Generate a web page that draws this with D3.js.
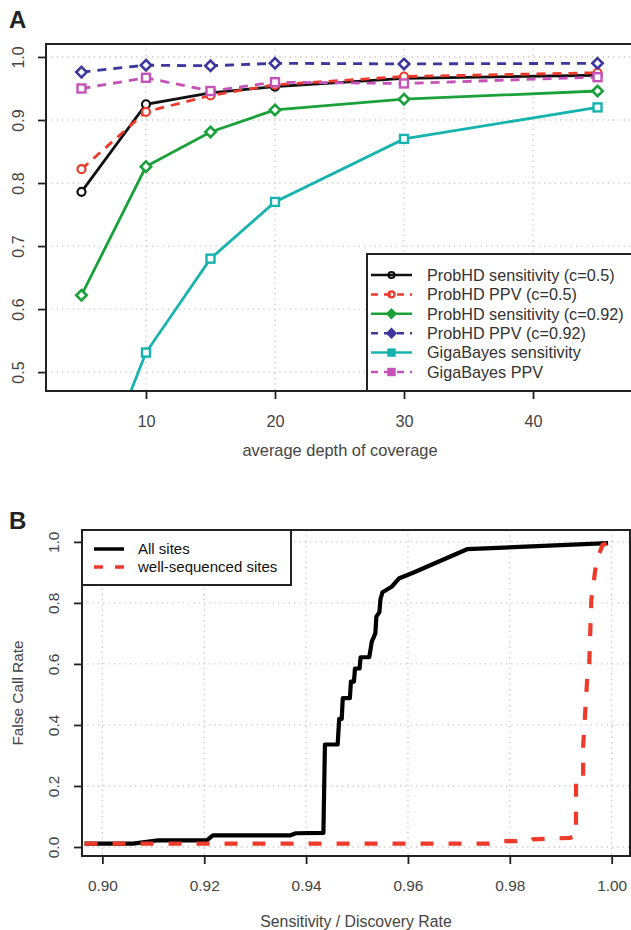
<!DOCTYPE html>
<html>
<head>
<meta charset="utf-8">
<script src="https://cdn.jsdelivr.net/npm/d3@7"></script>
<style>
  body { margin: 0; background: #fff; }
  svg { display: block; font-family: "Liberation Sans", Arial, sans-serif; }
</style>
</head>
<body>
<svg id="chart"></svg>
<script>
// ---- panel A data ----
const depth = [5, 10, 15, 20, 30, 45];
const probhdSens05 = [0.786, 0.925, 0.943, 0.953, 0.966, 0.971];
const probhdPpv05 = [0.822, 0.913, 0.939, 0.956, 0.969, 0.975];
const probhdSens092 = [0.622, 0.826, 0.881, 0.916, 0.933, 0.946];
const probhdPpv092 = [0.976, 0.987, 0.986, 0.990, 0.989, 0.990];
const gigaSens = [0.27, 0.531, 0.680, 0.770, 0.870, 0.920];
const gigaPpv = [0.950, 0.967, 0.946, 0.960, 0.958, 0.968];
const aXTicks = [10, 20, 30, 40];
const aYTicks = [0.5, 0.6, 0.7, 0.8, 0.9, 1.0];

// ---- panel B data ----
const allSens = [0.8965, 0.906, 0.911, 0.9205, 0.9217, 0.9368, 0.938, 0.9434, 0.9437, 0.9462, 0.9465, 0.9470,
  0.9472, 0.9486, 0.9488, 0.9494, 0.9496, 0.9505, 0.9507, 0.9524, 0.9529, 0.9536, 0.9538, 0.9544, 0.9546,
  0.9550, 0.9568, 0.9583, 0.9610, 0.9716, 0.9993];
const allFcr = [0.011, 0.011, 0.022, 0.022, 0.038, 0.038, 0.045, 0.046, 0.336, 0.336, 0.42, 0.42,
  0.488, 0.488, 0.542, 0.542, 0.585, 0.585, 0.622, 0.622, 0.673, 0.70, 0.755, 0.77, 0.812,
  0.835, 0.853, 0.881, 0.899, 0.976, 0.996];
const wellSens = [0.8965, 0.976, 0.978, 0.984, 0.9845, 0.9918, 0.9930, 0.9930, 0.9944, 0.9944, 0.9953,
  0.9956, 0.9960, 0.9970, 0.9982, 0.9998];
const wellFcr = [0.011, 0.011, 0.019, 0.019, 0.025, 0.030, 0.036, 0.23, 0.23, 0.33, 0.58,
  0.60, 0.81, 0.935, 0.99, 1.0];
const bXTicks = [0.90, 0.92, 0.94, 0.96, 0.98, 1.00];
const bYTicks = [0.0, 0.2, 0.4, 0.6, 0.8, 1.0];

// ---- series styles ----
const seriesA = [
  {name: "ProbHD sensitivity (c=0.5)", values: probhdSens05, color: "#111", dash: null, shape: "circle"},
  {name: "ProbHD PPV (c=0.5)", values: probhdPpv05, color: "#ee3a2a", dash: "9,7", shape: "circle"},
  {name: "ProbHD sensitivity (c=0.92)", values: probhdSens092, color: "#1aa13a", dash: null, shape: "diamond"},
  {name: "ProbHD PPV (c=0.92)", values: probhdPpv092, color: "#3d379e", dash: "9,7", shape: "diamond"},
  {name: "GigaBayes sensitivity", values: gigaSens, color: "#17b3ae", dash: null, shape: "square"},
  {name: "GigaBayes PPV", values: gigaPpv, color: "#c452b8", dash: "9,7", shape: "square"}
];

const width = 631, height = 930;
const svg = d3.select("#chart").attr("width", width).attr("height", height);

const gridColor = "#c8c8c8";
const tickColor = "#444";

function marker(g, shape, cx, cy, color, s, fill) {
  if (shape === "circle") {
    g.append("circle").attr("cx", cx).attr("cy", cy).attr("r", s)
      .attr("fill", fill).attr("stroke", color).attr("stroke-width", 2.2);
  } else if (shape === "square") {
    g.append("rect").attr("x", cx - s).attr("y", cy - s).attr("width", 2 * s).attr("height", 2 * s)
      .attr("fill", fill).attr("stroke", color).attr("stroke-width", 2.4);
  } else {
    const d = s * 1.3;
    g.append("path").attr("d", `M${cx},${cy - d}L${cx + d},${cy}L${cx},${cy + d}L${cx - d},${cy}Z`)
      .attr("fill", fill).attr("stroke", color).attr("stroke-width", 2.6);
  }
}

// ================= Panel A =================
const aLeft = 46, aTop = 44, aRight = 633, aBottom = 391;
const xA = d3.scaleLinear().domain([2.25, 47.75]).range([aLeft, aRight]);
const yA = d3.scaleLinear().domain([0.47, 1.0206]).range([aBottom, aTop]);

const gA = svg.append("g");
svg.append("clipPath").attr("id", "clipA")
  .append("rect").attr("x", aLeft).attr("y", aTop).attr("width", aRight - aLeft).attr("height", aBottom - aTop);

// grid
gA.append("g").selectAll("line").data(aXTicks).join("line")
  .attr("x1", d => xA(d)).attr("x2", d => xA(d)).attr("y1", aTop).attr("y2", aBottom)
  .attr("stroke", gridColor).attr("stroke-width", 1.3).attr("stroke-dasharray", "1.3,4");
gA.append("g").selectAll("line").data(aYTicks).join("line")
  .attr("x1", aLeft).attr("x2", aRight).attr("y1", d => yA(d)).attr("y2", d => yA(d))
  .attr("stroke", gridColor).attr("stroke-width", 1.3).attr("stroke-dasharray", "1.3,4");

// series
const lineA = d3.line().x((d, i) => xA(depth[i])).y(d => yA(d));
const plotA = gA.append("g").attr("clip-path", "url(#clipA)");
seriesA.forEach(s => {
  plotA.append("path").attr("d", lineA(s.values)).attr("fill", "none")
    .attr("stroke", s.color).attr("stroke-width", 2.8)
    .attr("stroke-dasharray", s.dash);
});
seriesA.forEach(s => {
  const mg = plotA.append("g");
  s.values.forEach((v, i) => marker(mg, s.shape, xA(depth[i]), yA(v), s.color, 4, "#fff"));
});

// axes
gA.append("g").attr("transform", `translate(0,${aBottom})`)
  .call(d3.axisBottom(xA).tickValues(aXTicks).tickSize(8).tickPadding(16).tickFormat(d3.format("d")))
  .call(g => g.select(".domain").remove())
  .call(g => g.selectAll(".tick line").attr("stroke", "#222").attr("stroke-width", 1.8))
  .call(g => g.selectAll(".tick text").attr("fill", tickColor).attr("font-size", 16.3));
gA.append("g").attr("transform", `translate(${aLeft},0)`)
  .call(d3.axisLeft(yA).tickValues(aYTicks).tickSize(8).tickFormat(d3.format(".1f")))
  .call(g => g.select(".domain").remove())
  .call(g => g.selectAll(".tick line").attr("stroke", "#222").attr("stroke-width", 1.8))
  .call(g => g.selectAll(".tick text").attr("fill", tickColor).attr("font-size", 16)
    .attr("transform", "translate(-28,0) rotate(-90)").attr("x", 0).attr("dy", "0.35em")
    .attr("text-anchor", "middle"));

gA.append("rect").attr("x", aLeft).attr("y", aTop).attr("width", aRight - aLeft).attr("height", aBottom - aTop)
  .attr("fill", "none").attr("stroke", "#222").attr("stroke-width", 2);

gA.append("text").attr("x", 340).attr("y", 456).attr("text-anchor", "middle")
  .attr("fill", tickColor).attr("font-size", 16.4).text("average depth of coverage");

// legend A
const legA = gA.append("g");
legA.append("rect").attr("x", 367).attr("y", 254).attr("width", 280).attr("height", aBottom - 254)
  .attr("fill", "#fff").attr("stroke", "#222").attr("stroke-width", 2);
seriesA.forEach((s, i) => {
  const y = 275 + i * 19.4;
  legA.append("line").attr("x1", 371).attr("x2", 412).attr("y1", y).attr("y2", y)
    .attr("stroke", s.color).attr("stroke-width", 2.5).attr("stroke-dasharray", s.dash ? "7,6" : null);
  marker(legA, s.shape, 391.5, y, s.color, 3, s.shape === "circle" ? "none" : s.color);
  legA.append("text").attr("x", 427).attr("y", y).attr("dy", "0.36em")
    .attr("fill", "#333").attr("font-size", 16.2).text(s.name);
});

svg.append("text").attr("x", 9).attr("y", 28).attr("font-size", 24).attr("font-weight", "bold")
  .attr("fill", "#222").text("A");

// ================= Panel B =================
const bLeft = 82, bTop = 530, bRight = 630, bBottom = 856;
const xB = d3.scaleLinear().domain([0.8960, 1.0036]).range([bLeft, bRight]);
const yB = d3.scaleLinear().domain([-0.0295, 1.039]).range([bBottom, bTop]);
const gB = svg.append("g");

gB.append("g").selectAll("line").data(bXTicks).join("line")
  .attr("x1", d => xB(d)).attr("x2", d => xB(d)).attr("y1", bTop).attr("y2", bBottom)
  .attr("stroke", gridColor).attr("stroke-width", 1.3).attr("stroke-dasharray", "1.3,4");
gB.append("g").selectAll("line").data(bYTicks).join("line")
  .attr("x1", bLeft).attr("x2", bRight).attr("y1", d => yB(d)).attr("y2", d => yB(d))
  .attr("stroke", gridColor).attr("stroke-width", 1.3).attr("stroke-dasharray", "1.3,4");

const lineB = d3.line();
gB.append("path").attr("d", lineB(allSens.map((v, i) => [xB(v), yB(allFcr[i])])))
  .attr("fill", "none").attr("stroke", "#000").attr("stroke-width", 4.2).attr("stroke-linejoin", "round");
gB.append("path").attr("d", lineB(wellSens.map((v, i) => [xB(v), yB(wellFcr[i])])))
  .attr("fill", "none").attr("stroke", "#ee3a2a").attr("stroke-width", 4.2)
  .attr("stroke-dasharray", "13,15");

gB.append("g").attr("transform", `translate(0,${bBottom})`)
  .call(d3.axisBottom(xB).tickValues(bXTicks).tickSize(8).tickPadding(16).tickFormat(d3.format(".2f")))
  .call(g => g.select(".domain").remove())
  .call(g => g.selectAll(".tick line").attr("stroke", "#222").attr("stroke-width", 1.8))
  .call(g => g.selectAll(".tick text").attr("fill", tickColor).attr("font-size", 15.4));
gB.append("g").attr("transform", `translate(${bLeft},0)`)
  .call(d3.axisLeft(yB).tickValues(bYTicks).tickSize(8).tickFormat(d3.format(".1f")))
  .call(g => g.select(".domain").remove())
  .call(g => g.selectAll(".tick line").attr("stroke", "#222").attr("stroke-width", 1.8))
  .call(g => g.selectAll(".tick text").attr("fill", tickColor).attr("font-size", 15.4)
    .attr("transform", "translate(-28,0) rotate(-90)").attr("x", 0).attr("dy", "0.35em")
    .attr("text-anchor", "middle"));

gB.append("rect").attr("x", bLeft).attr("y", bTop).attr("width", bRight - bLeft).attr("height", bBottom - bTop)
  .attr("fill", "none").attr("stroke", "#222").attr("stroke-width", 2);

gB.append("text").attr("x", (bLeft + bRight) / 2).attr("y", 927).attr("text-anchor", "middle")
  .attr("fill", tickColor).attr("font-size", 15.8).text("Sensitivity / Discovery Rate");
gB.append("text").attr("transform", `translate(18,${(bTop + bBottom) / 2}) rotate(-90)`)
  .attr("text-anchor", "middle").attr("dy", "0.35em").attr("fill", tickColor).attr("font-size", 15.4)
  .text("False Call Rate");

// legend B
const legB = gB.append("g");
legB.append("rect").attr("x", bLeft).attr("y", bTop).attr("width", 291 - bLeft).attr("height", 585 - bTop)
  .attr("fill", "#fff").attr("stroke", "#222").attr("stroke-width", 2);
[["All sites", "#000", null], ["well-sequenced sites", "#ee3a2a", "9,12"]].forEach(([t, c, dash], i) => {
  const y = 549 + i * 18;
  legB.append("line").attr("x1", 94).attr("x2", 124).attr("y1", y).attr("y2", y)
    .attr("stroke", c).attr("stroke-width", 3.5).attr("stroke-dasharray", dash);
  legB.append("text").attr("x", 138).attr("y", y).attr("dy", "0.36em")
    .attr("fill", "#111").attr("font-size", 15).text(t);
});

svg.append("text").attr("x", 9).attr("y", 529).attr("font-size", 24).attr("font-weight", "bold")
  .attr("fill", "#222").text("B");
</script>
</body>
</html>
